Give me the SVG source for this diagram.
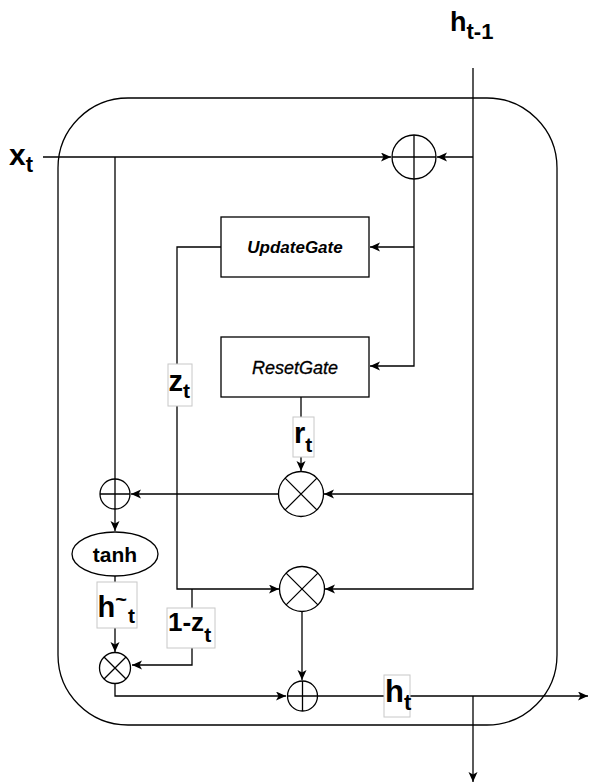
<svg xmlns="http://www.w3.org/2000/svg" width="589" height="784" viewBox="0 0 589 784">
<style>
.ln{fill:none;stroke:#000;stroke-width:1.3}
.node{fill:#fff;stroke:#000;stroke-width:1.3}
.lbl{fill:#fff;stroke:#c8c8c8;stroke-width:1}
.t{font-family:"Liberation Sans",Arial,sans-serif;fill:#000}
.b{font-weight:bold}
</style>
<defs>
<marker id="arr" markerUnits="userSpaceOnUse" markerWidth="11" markerHeight="10" refX="10" refY="4.5" orient="auto">
<path d="M0,0 L10,4.5 L0,9 L2.5,4.5 z" fill="#000"/>
</marker>
</defs>
<rect id="cell" x="58" y="98" width="499" height="627" rx="70" ry="70" fill="none" stroke="#000" stroke-width="1.3"/>
<g id="connectors">
<path class="ln" d="M473,68 V589 H325" marker-end="url(#arr)"/>
<path class="ln" d="M473,157 H437" marker-end="url(#arr)"/>
<path class="ln" d="M473,494 H324" marker-end="url(#arr)"/>
<path class="ln" d="M43,157 H391" marker-end="url(#arr)"/>
<path class="ln" d="M115,157 V479"/>
<path class="ln" d="M414,179 V366 H370" marker-end="url(#arr)"/>
<path class="ln" d="M414,247 H370" marker-end="url(#arr)"/>
<path class="ln" d="M221,247 H177 V589 H279" marker-end="url(#arr)"/>
<path class="ln" d="M192,589 V665 H132" marker-end="url(#arr)"/>
<path class="ln" d="M301,397 V471" marker-end="url(#arr)"/>
<path class="ln" d="M278,494 H131" marker-end="url(#arr)"/>
<path class="ln" d="M115,509 V531" marker-end="url(#arr)"/>
<path class="ln" d="M115,576 V652" marker-end="url(#arr)"/>
<path class="ln" d="M302,611 V680" marker-end="url(#arr)"/>
<path class="ln" d="M115,683 V696 H286" marker-end="url(#arr)"/>
<path class="ln" d="M318,696 H588" marker-end="url(#arr)"/>
<path class="ln" d="M473,696 V782" marker-end="url(#arr)"/>
</g>
<g id="plus_top">
<circle class="node" cx="414" cy="157" r="22"/>
<path class="ln" d="M392,157 H436 M414,135 V179"/>
</g>
<g id="update_gate">
<rect class="node" x="221" y="217" width="148" height="60"/>
<text class="t b" x="295" y="253" font-size="17" font-style="italic" text-anchor="middle">UpdateGate</text>
</g>
<g id="reset_gate">
<rect class="node" x="221" y="337" width="148" height="60"/>
<text class="t" x="295" y="374" font-size="18" font-style="italic" text-anchor="middle" stroke="#000" stroke-width="0.3">ResetGate</text>
</g>
<g id="mult_reset">
<circle class="node" cx="301" cy="494" r="22.5"/>
<path class="ln" d="M285.1,478.1 L316.9,509.9 M316.9,478.1 L285.1,509.9"/>
</g>
<g id="plus_left">
<circle class="node" cx="115" cy="494" r="15"/>
<path class="ln" d="M100,494 H130 M115,479 V509"/>
</g>
<g id="tanh">
<ellipse class="node" cx="115" cy="554" rx="43" ry="22"/>
<text class="t b" x="115" y="562" font-size="21" text-anchor="middle">tanh</text>
</g>
<g id="mult_z">
<circle class="node" cx="302" cy="589" r="22.5"/>
<path class="ln" d="M286.1,573.1 L317.9,604.9 M317.9,573.1 L286.1,604.9"/>
</g>
<g id="mult_small">
<circle class="node" cx="115" cy="668" r="15.5"/>
<path class="ln" d="M104,657 L126,679 M126,657 L104,679"/>
</g>
<g id="plus_bottom">
<circle class="node" cx="302.5" cy="696" r="15"/>
<path class="ln" d="M287.5,696 H317.5 M302.5,681 V711"/>
</g>
<g id="label_htm1">
<text class="t b" x="450" y="31" font-size="27">h<tspan font-size="22" dy="8">t-1</tspan></text>
</g>
<g id="label_xt">
<text class="t b" x="9" y="165" font-size="30">x<tspan font-size="22" dy="7">t</tspan></text>
</g>
<g id="label_zt">
<rect class="lbl" x="168" y="364" width="24" height="42"/>
<text class="t b" x="168.5" y="391" font-size="29">z<tspan font-size="21" dy="7">t</tspan></text>
</g>
<g id="label_rt">
<rect class="lbl" x="293" y="417" width="21" height="40"/>
<text class="t b" x="294" y="443" font-size="29">r<tspan font-size="21" dy="9">t</tspan></text>
</g>
<g id="label_htilde">
<rect class="lbl" x="97" y="582" width="40" height="46"/>
<text class="t b" x="97.5" y="617" font-size="29">h<tspan font-size="20" dy="-11">~</tspan><tspan font-size="21" x="128" dy="17">t</tspan></text>
</g>
<g id="label_1mz">
<rect class="lbl" x="167" y="608" width="48" height="40"/>
<text class="t b" x="168" y="631" font-size="26">1-z<tspan font-size="21" dy="11">t</tspan></text>
</g>
<g id="label_ht">
<rect class="lbl" x="384" y="675" width="26" height="42"/>
<text class="t b" x="385" y="702" font-size="31">h<tspan font-size="22" dy="8">t</tspan></text>
</g>
</svg>
